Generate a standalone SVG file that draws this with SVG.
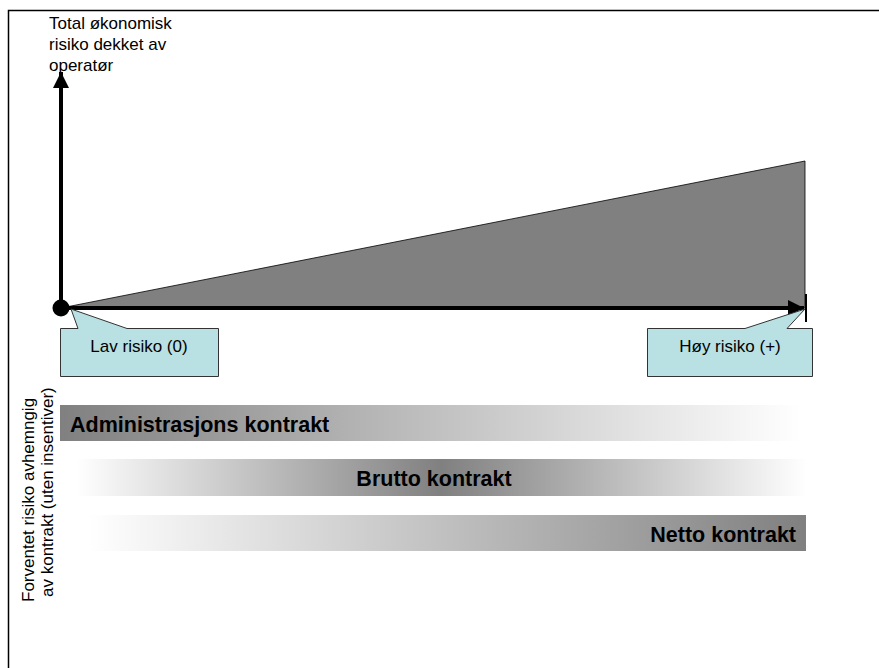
<svg xmlns="http://www.w3.org/2000/svg" width="879" height="668" viewBox="0 0 879 668">
<defs>
<style>
text{font-family:"Liberation Sans",Arial,sans-serif;fill:#000}
.lbl{font-size:17px}
.bar{font-size:21.5px;font-weight:bold}
.call{fill:#B9E0E3;stroke:#333;stroke-width:1}
</style>
<linearGradient id="g1" x1="0" x2="1" y1="0" y2="0">
<stop offset="0" stop-color="#808080"/><stop offset="1" stop-color="#fff"/>
</linearGradient>
<linearGradient id="g2" x1="0" x2="1" y1="0" y2="0">
<stop offset="0" stop-color="#fff"/><stop offset="0.5" stop-color="#808080"/><stop offset="1" stop-color="#fff"/>
</linearGradient>
<linearGradient id="g3" x1="0" x2="1" y1="0" y2="0">
<stop offset="0" stop-color="#fff"/><stop offset="1" stop-color="#808080"/>
</linearGradient>
<marker id="ah" viewBox="0 0 10 10" refX="10" refY="5" markerWidth="4" markerHeight="4" orient="auto" markerUnits="strokeWidth">
<path d="M0,0 L10,5 L0,10 z" fill="#000"/>
</marker>
</defs>
<rect width="879" height="668" fill="#fff"/>
<rect x="8.5" y="10.5" width="880" height="670" fill="none" stroke="#000" stroke-width="1.5"/>

<g id="area"><polygon points="61,308 805,161 805,308" fill="#808080" stroke="#000" stroke-width="0.8"/></g>

<g id="connectors">
<line x1="61" y1="308" x2="61" y2="72" stroke="#000" stroke-width="4" marker-end="url(#ah)"/>
<line x1="61" y1="308" x2="804" y2="308" stroke="#000" stroke-width="4" marker-end="url(#ah)"/>
<line x1="806" y1="294" x2="806" y2="322" stroke="#000" stroke-width="2"/>
<circle cx="61" cy="308" r="8.5" fill="#000"/>
</g>

<g id="ytitle">
<text class="lbl" x="49" y="29">Total økonomisk</text>
<text class="lbl" x="49" y="50">risiko dekket av</text>
<text class="lbl" x="49" y="71">operatør</text>
</g>

<g id="lav">
<path class="call" d="M60.5,328.5 H78 L71,309 L127,328.5 H218.5 V376.5 H60.5 Z"/>
<text class="lbl" x="139" y="352" text-anchor="middle">Lav risiko (0)</text>
</g>

<g id="hoy">
<path class="call" d="M647.5,328.5 H745 L805,309 L787,328.5 H812.5 V376.5 H647.5 Z"/>
<text class="lbl" x="730" y="352" text-anchor="middle">Høy risiko (+)</text>
</g>

<g id="sidelabel">
<text class="lbl" transform="translate(34,602) rotate(-90)">Forventet risiko avhemngig</text>
<text class="lbl" transform="translate(53,597) rotate(-90)">av kontrakt (uten insentiver)</text>
</g>

<g id="admin">
<rect x="60" y="405" width="741" height="36" fill="url(#g1)"/>
<text class="bar" x="70" y="432">Administrasjons kontrakt</text>
</g>
<g id="brutto">
<rect x="76" y="459" width="731" height="37" fill="url(#g2)"/>
<text class="bar" x="434" y="486" text-anchor="middle">Brutto kontrakt</text>
</g>
<g id="netto">
<rect x="88" y="515" width="718" height="36" fill="url(#g3)"/>
<text class="bar" x="796" y="542" text-anchor="end">Netto kontrakt</text>
</g>
</svg>
